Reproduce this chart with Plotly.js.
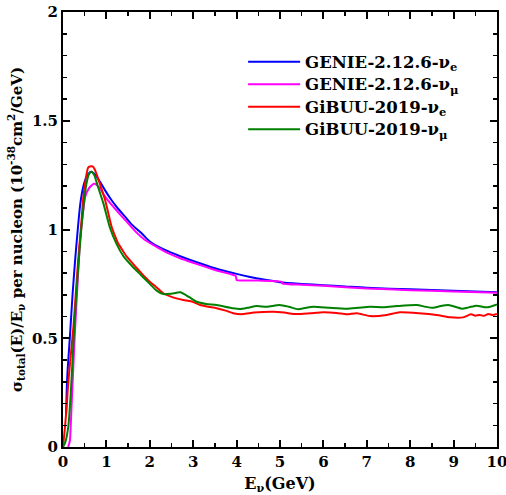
<!DOCTYPE html>
<html>
<head>
<meta charset="utf-8">
<script src="https://cdn.plot.ly/plotly-3.0.1.min.js"></script>
<style>html,body{margin:0;padding:0;background:#fff;}#chart{width:506px;height:495px;}</style>
</head>
<body>
<div id="chart"></div>
<script>
// GENIE-2.12.6 nu_e
var genieEx = [0.07, 0.1, 0.16, 0.22, 0.28, 0.34, 0.4, 0.47, 0.55, 0.65, 0.75, 0.85, 0.97, 1.1, 1.25, 1.43, 1.6, 1.8, 2.0, 2.35, 2.7, 3.0, 3.5, 4.0, 4.31, 4.7, 5.0, 5.5, 6.0, 6.5, 7.0, 8.0, 9.0, 10.0];
var genieEy = [0.15, 0.33, 0.51, 0.70, 0.86, 1.0, 1.12, 1.2, 1.245, 1.265, 1.25, 1.22, 1.18, 1.14, 1.10, 1.059, 1.02, 0.985, 0.945, 0.906, 0.877, 0.855, 0.822, 0.796, 0.782, 0.768, 0.758, 0.750, 0.744, 0.738, 0.732, 0.725, 0.718, 0.712];
// GENIE-2.12.6 nu_mu
var genieMx = [0.12, 0.16, 0.2, 0.24, 0.28, 0.34, 0.39, 0.45, 0.51, 0.6, 0.7, 0.75, 0.85, 0.97, 1.2, 1.43, 1.65, 1.89, 2.35, 2.7, 3.0, 3.5, 3.98, 4.0, 4.5, 5.04, 5.06, 5.5, 6.0, 7.0, 8.0, 9.0, 10.0];
var genieMy = [0.0, 0.03, 0.2, 0.38, 0.55, 0.77, 0.94, 1.06, 1.15, 1.19, 1.21, 1.209, 1.19, 1.151, 1.095, 1.044, 0.995, 0.952, 0.898, 0.868, 0.847, 0.814, 0.787, 0.768, 0.765, 0.760, 0.751, 0.746, 0.741, 0.729, 0.721, 0.715, 0.709];
// GiBUU-2019 nu_e
var gibuuEx = [0, 0.04, 0.085, 0.108, 0.15, 0.24, 0.3, 0.35, 0.41, 0.47, 0.53, 0.58, 0.62, 0.68, 0.72, 0.8, 0.9, 0.97, 1.05, 1.12, 1.2, 1.27, 1.37, 1.47, 1.6, 1.74, 1.87, 2.0, 2.15, 2.31, 2.5, 2.77, 2.95, 3.16, 3.35, 3.54, 3.75, 3.92, 4.15, 4.4, 4.85, 5.1, 5.38, 5.7, 6.0, 6.3, 6.54, 6.77, 7.07, 7.46, 7.76, 8.2, 8.61, 8.92, 9.22, 9.4, 9.5, 9.6, 9.7, 9.8, 9.9, 10];
var gibuuEy = [0, 0.08, 0.185, 0.26, 0.36, 0.553, 0.72, 0.86, 1.0, 1.15, 1.24, 1.285, 1.29, 1.29, 1.28, 1.24, 1.18, 1.136, 1.07, 1.013, 0.97, 0.937, 0.905, 0.875, 0.845, 0.814, 0.785, 0.76, 0.735, 0.707, 0.69, 0.676, 0.67, 0.653, 0.645, 0.638, 0.627, 0.615, 0.611, 0.618, 0.622, 0.618, 0.611, 0.615, 0.619, 0.616, 0.61, 0.615, 0.602, 0.607, 0.619, 0.615, 0.607, 0.596, 0.596, 0.61, 0.604, 0.607, 0.603, 0.612, 0.607, 0.612];
// GiBUU-2019 nu_mu
var gibuuMx = [0.0, 0.05, 0.12, 0.18, 0.24, 0.3, 0.36, 0.42, 0.48, 0.54, 0.6, 0.66, 0.72, 0.8, 0.93, 1.08, 1.23, 1.4, 1.6, 1.8, 2.0, 2.15, 2.31, 2.5, 2.7, 2.9, 3.08, 3.3, 3.54, 3.92, 4.08, 4.25, 4.46, 4.7, 4.99, 5.2, 5.42, 5.6, 5.77, 6.15, 6.54, 6.8, 7.07, 7.4, 7.69, 8.15, 8.35, 8.53, 8.7, 8.88, 9.19, 9.35, 9.53, 9.76, 10];
var gibuuMy = [0.0, 0.02, 0.09, 0.25, 0.48, 0.68, 0.85, 1.0, 1.12, 1.21, 1.255, 1.266, 1.25, 1.2, 1.12, 1.01, 0.935, 0.875, 0.83, 0.79, 0.75, 0.72, 0.703, 0.705, 0.711, 0.69, 0.668, 0.658, 0.653, 0.638, 0.635, 0.64, 0.648, 0.645, 0.653, 0.645, 0.633, 0.64, 0.645, 0.64, 0.636, 0.64, 0.645, 0.643, 0.648, 0.653, 0.645, 0.64, 0.648, 0.653, 0.636, 0.642, 0.65, 0.642, 0.656];

var seriesLabels = ['GENIE-2.12.6-ν<sub>e</sub>', 'GENIE-2.12.6-ν<sub>μ</sub>', 'GiBUU-2019-ν<sub>e</sub>', 'GiBUU-2019-ν<sub>μ</sub>'];
var colors = ['#0000ff', '#ff00ff', '#ff0000', '#008000'];
var xs = [genieEx, genieMx, gibuuEx, gibuuMx];
var ys = [genieEy, genieMy, gibuuEy, gibuuMy];
var smooth = [0.8, 0.4, 0.6, 0.6];

var traces = xs.map(function (x, i) {
  return {
    x: x, y: ys[i], type: 'scatter', mode: 'lines',
    name: '<span style="font-size:16.5px"><b>' + seriesLabels[i] + '</b></span>',
    line: {color: colors[i], width: 2, shape: 'spline', smoothing: smooth[i]}
  };
});

var F = 'DejaVu Serif, serif';
var axisCommon = {
  showline: true, linecolor: '#000', linewidth: 2, mirror: 'ticks',
  ticks: 'inside', ticklen: 7, tickwidth: 2, tickcolor: '#000',
  showgrid: false, zeroline: false, ticklabeloverflow: 'allow',
  tickprefix: '<b>', ticksuffix: '</b>',
  tickfont: {family: F, size: 15, color: '#000', weight: 700}
};

var layout = {
  width: 506, height: 495,
  margin: {l: 63, r: 9, t: 12, b: 48},
  paper_bgcolor: '#fff', plot_bgcolor: '#fff',
  font: {family: F, color: '#000'},
  showlegend: true,
  legend: {x: 0.415, y: 0.923, xanchor: 'left', yanchor: 'top', bgcolor: 'rgba(0,0,0,0)',
           font: {family: F, size: 15, color: '#000'}, itemwidth: 52, tracegroupgap: 0},
  xaxis: Object.assign({}, axisCommon, {
    range: [0, 10], dtick: 1, tick0: 0,
    minor: {dtick: 0.5, ticks: 'inside', ticklen: 4, tickwidth: 1.5, tickcolor: '#000'},
    title: {text: '<b>E<sub>ν</sub>(GeV)</b>', font: {family: F, size: 16, color: '#000'}, standoff: 9}
  }),
  yaxis: Object.assign({}, axisCommon, {
    range: [0, 2], dtick: 0.5, tick0: 0,
    minor: {dtick: 0.1, ticks: 'inside', ticklen: 4, tickwidth: 1.5, tickcolor: '#000'},
    title: {text: '<b>σ<sub>total</sub>(E)/E<sub>ν</sub> per nucleon (10<sup>-38</sup>cm<sup>2</sup>/GeV)</b>', font: {family: F, size: 15, color: '#000'}, standoff: 6}
  })
};

Plotly.newPlot('chart', traces, layout, {displayModeBar: false, staticPlot: true});
</script>
</body>
</html>
